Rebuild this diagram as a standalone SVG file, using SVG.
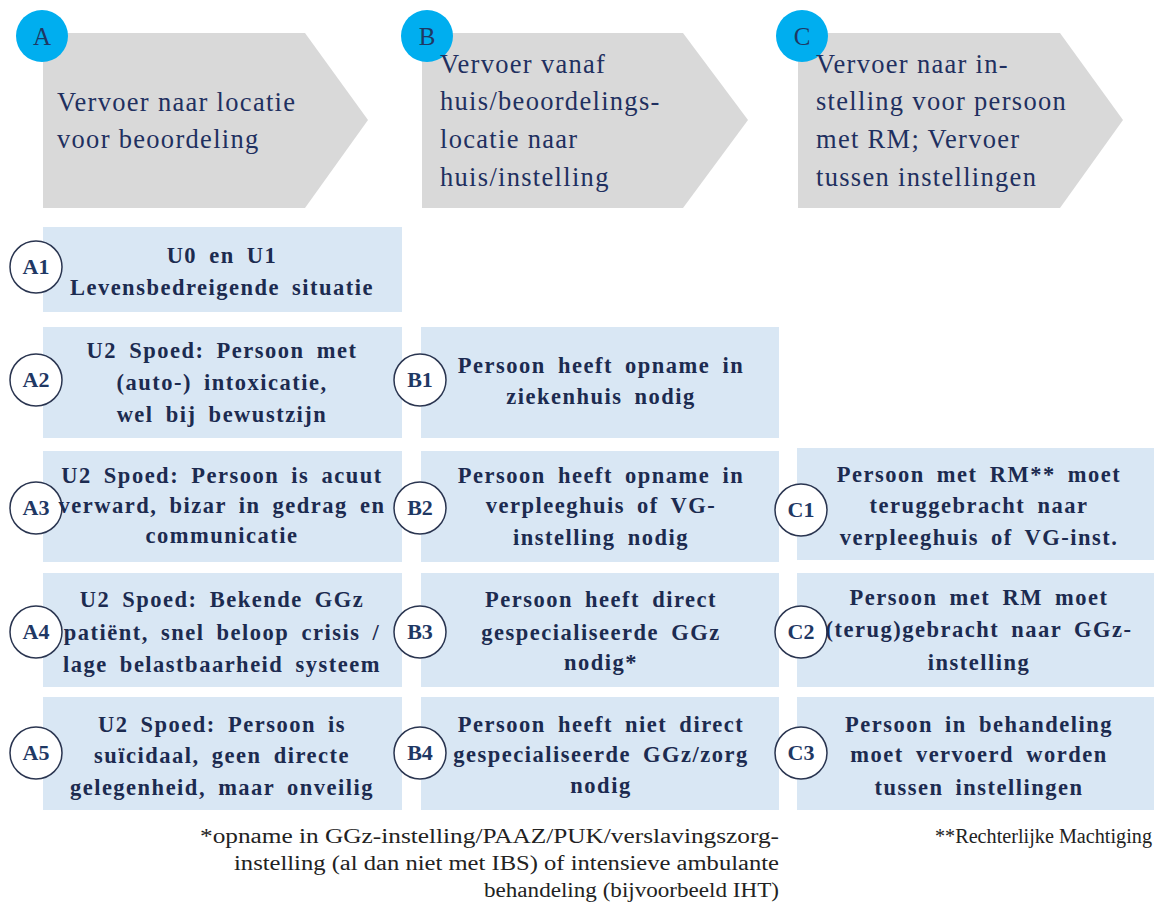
<svg xmlns="http://www.w3.org/2000/svg" width="1154" height="908" viewBox="0 0 1154 908">
<style>
.hdr{fill:#d9d9d9}
.box{fill:#d9e7f4}
.badge{fill:#00aeef}
.badge-t{font-family:"Liberation Serif",serif;font-size:25px;fill:#1f3864;text-anchor:middle}
.ht{font-family:"Liberation Serif",serif;font-size:26.5px;fill:#1f3060;letter-spacing:1.3px}
.num{fill:#ffffff;stroke:#2a3550;stroke-width:1.5}
.num-t{font-family:"Liberation Serif",serif;font-size:22px;font-weight:bold;fill:#1f3864;text-anchor:middle}
.bt{font-family:"Liberation Serif",serif;font-size:22.5px;font-weight:bold;fill:#1c2b50;text-anchor:middle;letter-spacing:1.5px;word-spacing:5px}
.fn{font-family:"Liberation Serif",serif;font-size:20px;fill:#222;text-anchor:end}
</style>
<rect width="1154" height="908" fill="#ffffff"/>
<g id="header-A">
<polygon class="hdr" points="43,33 305,33 368,120 305,208 43,208"/>
<circle class="badge" cx="42" cy="36" r="26"/>
<text class="badge-t" x="42" y="45">A</text>
<text class="ht" x="57" y="111">Vervoer naar locatie</text>
<text class="ht" x="57" y="148">voor beoordeling</text>
</g>
<g id="header-B">
<polygon class="hdr" points="422,33 683,33 748,120 683,208 422,208"/>
<circle class="badge" cx="427" cy="36" r="26"/>
<text class="badge-t" x="427" y="45">B</text>
<text class="ht" x="440" y="73">Vervoer vanaf</text>
<text class="ht" x="440" y="110">huis/beoordelings-</text>
<text class="ht" x="440" y="148">locatie naar</text>
<text class="ht" x="440" y="186">huis/instelling</text>
</g>
<g id="header-C">
<polygon class="hdr" points="798,33 1060,33 1123,120 1060,208 798,208"/>
<circle class="badge" cx="802" cy="36" r="26"/>
<text class="badge-t" x="802" y="45">C</text>
<text class="ht" x="816" y="73">Vervoer naar in-</text>
<text class="ht" x="816" y="110">stelling voor persoon</text>
<text class="ht" x="816" y="148">met RM; Vervoer</text>
<text class="ht" x="816" y="186">tussen instellingen</text>
</g>
<g id="A1">
<rect class="box" x="43" y="227" width="359" height="85"/>
<circle class="num" cx="36" cy="267" r="26"/>
<text class="num-t" x="36" y="274">A1</text>
<text class="bt" x="222" y="263">U0 en U1</text>
<text class="bt" x="222" y="295">Levensbedreigende situatie</text>
</g>
<g id="A2">
<rect class="box" x="43" y="327" width="359" height="111"/>
<circle class="num" cx="36" cy="380" r="26"/>
<text class="num-t" x="36" y="387">A2</text>
<text class="bt" x="222" y="358">U2 Spoed: Persoon met</text>
<text class="bt" x="222" y="390">(auto-) intoxicatie,</text>
<text class="bt" x="222" y="422">wel bij bewustzijn</text>
</g>
<g id="A3">
<rect class="box" x="43" y="451" width="359" height="111"/>
<circle class="num" cx="36" cy="508" r="26"/>
<text class="num-t" x="36" y="515">A3</text>
<text class="bt" x="222" y="483">U2 Spoed: Persoon is acuut</text>
<text class="bt" x="222" y="513">verward, bizar in gedrag en</text>
<text class="bt" x="222" y="543">communicatie</text>
</g>
<g id="A4">
<rect class="box" x="43" y="573" width="359" height="114"/>
<circle class="num" cx="36" cy="632" r="26"/>
<text class="num-t" x="36" y="639">A4</text>
<text class="bt" x="222" y="607">U2 Spoed: Bekende GGz</text>
<text class="bt" x="222" y="640">patiënt, snel beloop crisis /</text>
<text class="bt" x="222" y="672">lage belastbaarheid systeem</text>
</g>
<g id="A5">
<rect class="box" x="43" y="697" width="359" height="113"/>
<circle class="num" cx="36" cy="753" r="26"/>
<text class="num-t" x="36" y="760">A5</text>
<text class="bt" x="222" y="732">U2 Spoed: Persoon is</text>
<text class="bt" x="222" y="763">suïcidaal, geen directe</text>
<text class="bt" x="222" y="795">gelegenheid, maar onveilig</text>
</g>
<g id="B1">
<rect class="box" x="421" y="327" width="358" height="111"/>
<circle class="num" cx="420" cy="380" r="26"/>
<text class="num-t" x="420" y="387">B1</text>
<text class="bt" x="601" y="373">Persoon heeft opname in</text>
<text class="bt" x="601" y="404">ziekenhuis nodig</text>
</g>
<g id="B2">
<rect class="box" x="421" y="451" width="358" height="111"/>
<circle class="num" cx="420" cy="508" r="26"/>
<text class="num-t" x="420" y="515">B2</text>
<text class="bt" x="601" y="483">Persoon heeft opname in</text>
<text class="bt" x="601" y="513">verpleeghuis of VG-</text>
<text class="bt" x="601" y="545">instelling nodig</text>
</g>
<g id="B3">
<rect class="box" x="421" y="573" width="358" height="114"/>
<circle class="num" cx="420" cy="632" r="26"/>
<text class="num-t" x="420" y="639">B3</text>
<text class="bt" x="601" y="607">Persoon heeft direct</text>
<text class="bt" x="601" y="640">gespecialiseerde GGz</text>
<text class="bt" x="601" y="670">nodig*</text>
</g>
<g id="B4">
<rect class="box" x="421" y="697" width="358" height="113"/>
<circle class="num" cx="420" cy="753" r="26"/>
<text class="num-t" x="420" y="760">B4</text>
<text class="bt" x="601" y="732">Persoon heeft niet direct</text>
<text class="bt" x="601" y="762">gespecialiseerde GGz/zorg</text>
<text class="bt" x="601" y="793">nodig</text>
</g>
<g id="C1">
<rect class="box" x="797" y="448" width="357" height="112"/>
<circle class="num" cx="801" cy="510" r="26"/>
<text class="num-t" x="801" y="517">C1</text>
<text class="bt" x="979" y="482">Persoon met RM** moet</text>
<text class="bt" x="979" y="513">teruggebracht naar</text>
<text class="bt" x="979" y="545">verpleeghuis of VG-inst.</text>
</g>
<g id="C2">
<rect class="box" x="797" y="573" width="357" height="114"/>
<circle class="num" cx="801" cy="632" r="26"/>
<text class="num-t" x="801" y="639">C2</text>
<text class="bt" x="979" y="605">Persoon met RM moet</text>
<text class="bt" x="979" y="637">(terug)gebracht naar GGz-</text>
<text class="bt" x="979" y="670">instelling</text>
</g>
<g id="C3">
<rect class="box" x="797" y="697" width="357" height="113"/>
<circle class="num" cx="801" cy="753" r="26"/>
<text class="num-t" x="801" y="760">C3</text>
<text class="bt" x="979" y="732">Persoon in behandeling</text>
<text class="bt" x="979" y="762">moet vervoerd worden</text>
<text class="bt" x="979" y="795">tussen instellingen</text>
</g>
<g id="connectors"></g>
<g id="footnotes">
<text class="fn" x="779" y="843" textLength="579" lengthAdjust="spacingAndGlyphs">*opname in GGz-instelling/PAAZ/PUK/verslavingszorg-</text>
<text class="fn" x="779" y="870" textLength="545" lengthAdjust="spacingAndGlyphs">instelling (al dan niet met IBS) of intensieve ambulante</text>
<text class="fn" x="779" y="897" textLength="295" lengthAdjust="spacingAndGlyphs">behandeling (bijvoorbeeld IHT)</text>
<text class="fn" x="1152" y="843" textLength="217" lengthAdjust="spacingAndGlyphs">**Rechterlijke Machtiging</text>
</g>
</svg>
